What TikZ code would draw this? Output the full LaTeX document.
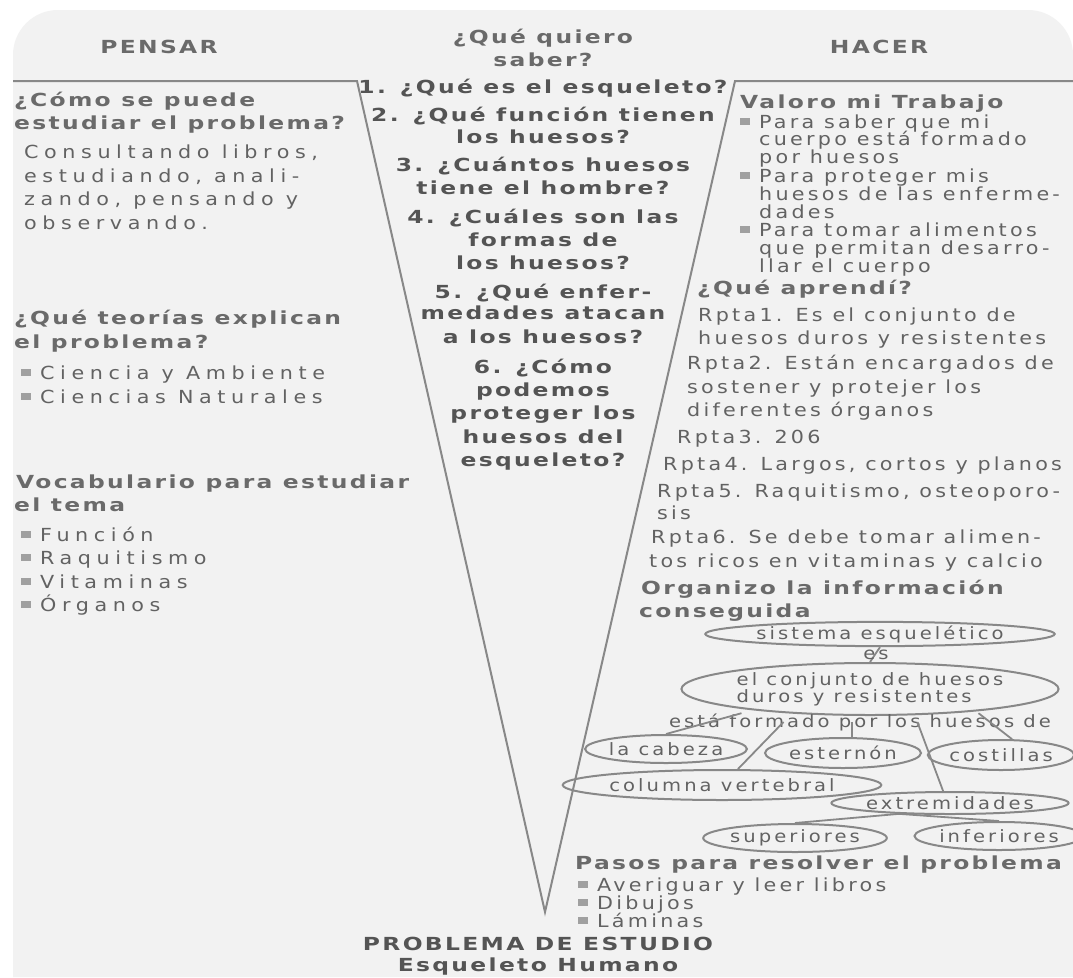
\documentclass[tikz,border=0pt]{standalone}
\usepackage{fontspec}
\setmainfont{DejaVu Sans}
\newfontfamily\bodyL{DejaVu Sans}[FakeStretch=1.15,LetterSpace=31]
\newfontfamily\bodyR{DejaVu Sans}[FakeStretch=1.15,LetterSpace=18]
\newfontfamily\boldF{DejaVu Sans}[FakeStretch=1.3,LetterSpace=13]
\usetikzlibrary{shapes.geometric,calc}
\definecolor{bgc}{HTML}{F2F2F2}
\definecolor{linec}{HTML}{888888}
\definecolor{txtc}{HTML}{626262}
\definecolor{hdc}{HTML}{6A6A6A}
\definecolor{qc}{HTML}{545454}
\definecolor{bulc}{HTML}{A0A0A0}
\newcommand\bul{{\color{bulc}\rule[3pt]{10pt}{7pt}}\hspace{9pt}}
\begin{document}
\begin{tikzpicture}[x=1pt,y=-1pt,
  tl/.style={anchor=base west, inner sep=0pt, text=txtc, font=\bodyL\fontsize{18}{20}\selectfont},
  tr/.style={anchor=base west, inner sep=0pt, text=txtc, font=\bodyR\fontsize{18}{20}\selectfont},
  hd/.style={anchor=base west, inner sep=0pt, text=hdc, font=\boldF\bfseries\fontsize{18}{20}\selectfont},
  hc/.style={anchor=base, inner sep=0pt, text=hdc, font=\boldF\bfseries\fontsize{18}{20}\selectfont},
  qq/.style={anchor=base, inner sep=0pt, text=qc, font=\boldF\bfseries\fontsize{18}{20}\selectfont},
  mapt/.style={inner sep=0pt, text=txtc, font=\bodyR\fontsize{17}{17}\selectfont},
  ell/.style={ellipse, draw=linec, line width=2pt, inner sep=0pt, text=txtc, font=\bodyR\fontsize{17}{17}\selectfont},
  conn/.style={draw=linec, line width=1.8pt},
  vline/.style={draw=linec, line width=2pt}]
\useasboundingbox (0,0) rectangle (1073,977);
\fill[white] (0,0) rectangle (1073,977);
\fill[bgc] (13,977) -- (13,600) [rounded corners=45pt] -- (13,10) -- (1073,10) -- (1073,600) [sharp corners] -- (1073,977) -- cycle;

% V frame
\coordinate (tlft) at (13,81);
\coordinate (la) at (357,81);
\coordinate (tip) at (545,912);
\coordinate (ra) at (735,81);
\coordinate (trgt) at (1073,81);
\draw[vline] (tlft) -- (la) -- (tip) -- (ra) -- (trgt);

% headers
\node[hc] (h1) at (159,53) {PENSAR};
\node[hc] (h2a) at (543,43) {¿Qué quiero};
\node[hc] (h2b) at (543,66) {saber?};
\node[hc] (h3) at (879,53) {HACER};

% left column
\node[hd] (c1) at (14,106) {¿Cómo se puede};
\node[hd] (c2) at (14,129) {estudiar el problema?};
\node[tl] (c3) at (24,158) {Consultando libros,};
\node[tl] (c4) at (24,182) {estudiando, anali-};
\node[tl] (c5) at (24,205) {zando, pensando y};
\node[tl] (c6) at (24,229) {observando.};
\node[hd] (t1) at (14,324) {¿Qué teorías explican};
\node[hd] (t2) at (14,348) {el problema?};
\node[tl] (t3) at (21,379) {\bul Ciencia y Ambiente};
\node[tl] (t4) at (21,403) {\bul Ciencias Naturales};
\node[hd] (v1) at (16,488) {Vocabulario para estudiar};
\node[hd] (v2) at (14,511) {el tema};
\node[tl] (v3) at (21,541) {\bul Función};
\node[tl] (v4) at (21,564) {\bul Raquitismo};
\node[tl] (v5) at (21,588) {\bul Vitaminas};
\node[tl] (v6) at (21,611) {\bul Órganos};

% centre questions
\node[qq] (q1) at (543,93) {1. ¿Qué es el esqueleto?};
\node[qq] (q2a) at (543,121) {2. ¿Qué función tienen};
\node[qq] (q2b) at (543,143) {los huesos?};
\node[qq] (q3a) at (543,171) {3. ¿Cuántos huesos};
\node[qq] (q3b) at (543,194) {tiene el hombre?};
\node[qq] (q4a) at (543,223) {4. ¿Cuáles son las};
\node[qq] (q4b) at (543,246) {formas de};
\node[qq] (q4c) at (543,269) {los huesos?};
\node[qq] (q5a) at (543,298) {5. ¿Qué enfer-};
\node[qq] (q5b) at (543,319) {medades atacan};
\node[qq] (q5c) at (543,343) {a los huesos?};
\node[qq] (q6a) at (543,373) {6. ¿Cómo};
\node[qq] (q6b) at (543,396) {podemos};
\node[qq] (q6c) at (543,419) {proteger los};
\node[qq] (q6d) at (543,443) {huesos del};
\node[qq] (q6e) at (543,466) {esqueleto?};

% right column
\node[hd] (r1) at (740,108) {Valoro mi Trabajo};
\node[tr] (r2) at (740,128) {\bul Para saber que mi};
\node[tr] (r3) at (759,145) {cuerpo está formado};
\node[tr] (r4) at (759,163) {por huesos};
\node[tr] (r5) at (740,182) {\bul Para proteger mis};
\node[tr] (r6) at (759,200) {huesos de las enferme-};
\node[tr] (r7) at (759,218) {dades};
\node[tr] (r8) at (740,236) {\bul Para tomar alimentos};
\node[tr] (r9) at (759,254) {que permitan desarro-};
\node[tr] (r10) at (759,272) {llar el cuerpo};
\node[hd] (a0) at (697,294) {¿Qué aprendí?};
\node[tr] (a1) at (698,321) {Rpta1. Es el conjunto de};
\node[tr] (a2) at (698,344) {huesos duros y resistentes};
\node[tr] (a3) at (687,369) {Rpta2. Están encargados de};
\node[tr] (a4) at (687,393) {sostener y protejer los};
\node[tr] (a5) at (687,416) {diferentes órganos};
\node[tr] (a6) at (677,443) {Rpta3. 206};
\node[tr] (a7) at (663,470) {Rpta4. Largos, cortos y planos};
\node[tr] (a8) at (657,497) {Rpta5. Raquitismo, osteoporo-};
\node[tr] (a9) at (657,519) {sis};
\node[tr] (a10) at (651,543) {Rpta6. Se debe tomar alimen-};
\node[tr] (a11) at (649,567) {tos ricos en vitaminas y calcio};
\node[hd] (o1) at (641,594) {Organizo la información};
\node[hd] (o2) at (639,617) {conseguida};

% concept map
\node[ell, minimum width=321pt, minimum height=22pt] (sis) at (880,634) {sistema esquelético};
\node[ell, minimum width=367pt, minimum height=52pt, align=left] (conj) at (870,689) {el conjunto de huesos\\duros y resistentes};
\draw[conn] (sis.south) -- (conj.north);
\node[mapt] (es) at (876,655) {es};
\node[mapt, anchor=base] (formado) at (860,727) {está formado por los huesos de};
\node[ell, minimum width=158pt, minimum height=28pt] (cabeza) at (666,749) {la cabeza};
\node[ell, minimum width=156pt, minimum height=30pt] (esternon) at (843,753) {esternón};
\node[ell, minimum width=142pt, minimum height=30pt] (costillas) at (1001,755) {costillas};
\node[ell, minimum width=274pt, minimum height=30pt] (columna) at (722,785) {columna vertebral};
\node[ell, minimum width=201pt, minimum height=22pt] (extrem) at (950,803) {extremidades};
\node[ell, minimum width=173pt, minimum height=28pt] (sup) at (795,838) {superiores};
\node[ell, minimum width=146pt, minimum height=28pt] (inf) at (999,836) {inferiores};

\coordinate (f1) at ($(formado.north west)!0.19!(formado.north east)$);
\coordinate (f2) at ($(formado.west)!0.30!(formado.east)$);
\coordinate (f3) at ($(formado.west)!0.48!(formado.east)$);
\coordinate (f4) at ($(formado.west)!0.65!(formado.east)$);
\coordinate (f5) at ($(formado.north west)!0.81!(formado.north east)$);
\draw[conn] (f1) -- (cabeza.north);
\draw[conn] (f2) -- (columna.45);
\draw[conn] (f3) -- (f3 |- esternon.north);
\draw[conn] (f4) -- (extrem.120);
\draw[conn] (f5) -- (costillas.55);
\draw[conn] (extrem.192) -- (sup.north);
\draw[conn] (extrem.192) -- (inf.north);

% steps
\node[hd] (p0) at (575,869) {Pasos para resolver el problema};
\node[tr] (p1) at (578,891) {\bul Averiguar y leer libros};
\node[tr] (p2) at (578,909) {\bul Dibujos};
\node[tr] (p3) at (578,927) {\bul Láminas};

% bottom
\node[qq] (b1) at (538,950) {PROBLEMA DE ESTUDIO};
\node[qq] (b2) at (538,971) {Esqueleto Humano};
\end{tikzpicture}
\end{document}
